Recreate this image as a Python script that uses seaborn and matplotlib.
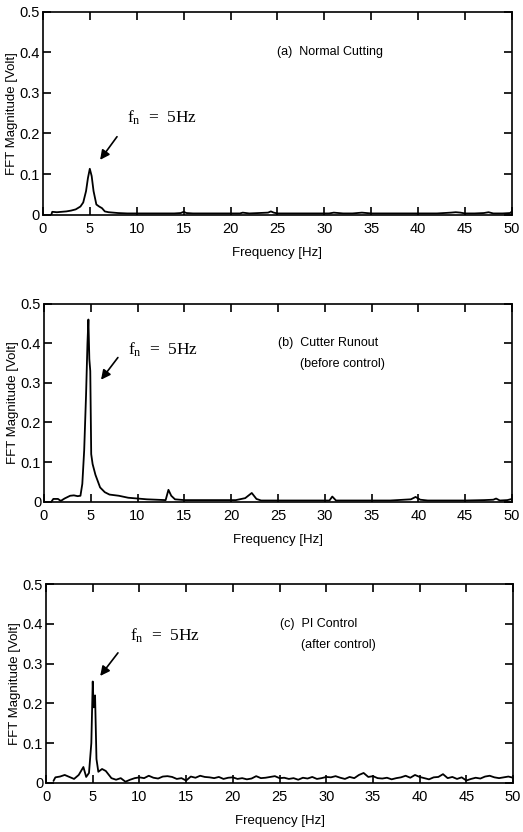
import numpy as np
import pandas as pd
import matplotlib
matplotlib.use("Agg")
import matplotlib.pyplot as plt
import seaborn as sns

# (a) Normal Cutting
freq_a = [0.9, 1.0, 1.5, 2.0, 2.5, 3.0, 3.5, 4.0, 4.3, 4.6, 4.8, 5.0, 5.2, 5.4, 5.7, 6.0, 6.3,
          6.6, 7.0, 7.5, 8.0, 9.0, 10.0, 11.0, 12.0, 13.0, 14.0, 14.7, 15.0, 15.3, 16.0, 18.0,
          20.0, 21.0, 21.3, 22.0, 23.0, 24.0, 24.3, 24.6, 25.0, 27.0, 29.0, 30.5, 31.0, 32.0,
          33.0, 33.5, 34.0, 35.0, 36.0, 38.0, 40.0, 42.0, 43.5, 44.0, 44.5, 45.0, 46.0, 47.0,
          47.5, 48.0, 49.0, 49.8, 50.0]
mag_a = [0.0, 0.007, 0.006, 0.007, 0.008, 0.010, 0.013, 0.020, 0.030, 0.058, 0.090, 0.113, 0.095,
         0.058, 0.025, 0.020, 0.016, 0.008, 0.006, 0.005, 0.004, 0.003, 0.003, 0.003, 0.003,
         0.003, 0.003, 0.004, 0.007, 0.004, 0.003, 0.003, 0.003, 0.003, 0.005, 0.003, 0.004,
         0.005, 0.008, 0.005, 0.003, 0.003, 0.003, 0.003, 0.005, 0.003, 0.003, 0.004, 0.005,
         0.003, 0.003, 0.003, 0.003, 0.003, 0.005, 0.006, 0.005, 0.003, 0.003, 0.004, 0.006,
         0.003, 0.003, 0.004, 0.008]

# (b) Cutter Runout (before control)
freq_b = [0.8, 1.0, 1.5, 1.8, 2.2, 2.8, 3.2, 3.6, 3.9, 4.1, 4.3, 4.5, 4.65, 4.75, 4.85, 4.95,
          5.05, 5.2, 5.5, 6.0, 6.5, 7.0, 8.0, 9.0, 10.0, 11.0, 12.0, 13.0, 13.3, 13.6, 14.0,
          15.0, 17.0, 19.0, 20.5, 21.5, 22.2, 22.7, 23.2, 25.0, 27.0, 29.0, 30.5, 30.8, 31.2,
          33.0, 35.0, 37.0, 39.2, 39.7, 40.2, 41.0, 43.0, 45.0, 47.0, 48.0, 48.3, 48.7, 49.5,
          50.0]
mag_b = [0.0, 0.007, 0.007, 0.002, 0.008, 0.015, 0.016, 0.014, 0.015, 0.045, 0.13, 0.27, 0.40,
         0.46, 0.36, 0.33, 0.12, 0.095, 0.068, 0.036, 0.024, 0.018, 0.015, 0.010, 0.008,
         0.006, 0.005, 0.004, 0.030, 0.015, 0.006, 0.004, 0.004, 0.004, 0.004, 0.009, 0.022,
         0.007, 0.003, 0.003, 0.003, 0.003, 0.003, 0.013, 0.003, 0.003, 0.003, 0.003, 0.006,
         0.012, 0.005, 0.003, 0.003, 0.003, 0.004, 0.005, 0.008, 0.003, 0.004, 0.007]

# (c) PI Control (after control)
freq_c = [0.8, 1.0, 1.5, 2.0, 2.5, 3.0, 3.5, 4.0, 4.3, 4.6, 4.85, 5.0, 5.1, 5.25, 5.4, 5.6,
          6.0, 6.4, 7.0, 7.5, 8.0, 8.5, 9.0, 9.5, 10.0, 10.5, 11.0, 11.5, 12.0, 12.5, 13.0,
          13.5, 14.0, 14.5, 15.0, 15.5, 16.0, 16.5, 17.0, 17.5, 18.0, 18.5, 19.0, 19.5, 20.0,
          20.5, 21.0, 21.5, 22.0, 22.5, 23.0, 23.5, 24.0, 24.5, 25.0, 25.5, 26.0, 26.5, 27.0,
          27.5, 28.0, 28.5, 29.0, 29.5, 30.0, 30.5, 31.0, 31.5, 32.0, 32.5, 33.0, 33.5, 34.0,
          34.5, 35.0, 35.5, 36.0, 36.5, 37.0, 37.5, 38.0, 38.5, 39.0, 39.5, 40.0, 40.5, 41.0,
          41.5, 42.0, 42.5, 43.0, 43.5, 44.0, 44.5, 45.0, 45.5, 46.0, 46.5, 47.0, 47.5, 48.0,
          48.5, 49.0, 49.5, 50.0]
mag_c = [0.005, 0.014, 0.016, 0.020, 0.015, 0.010, 0.020, 0.040, 0.015, 0.025, 0.10, 0.255,
         0.19, 0.22, 0.06, 0.028, 0.035, 0.030, 0.012, 0.008, 0.012, 0.003, 0.008, 0.012,
         0.014, 0.012, 0.018, 0.013, 0.011, 0.016, 0.017, 0.015, 0.010, 0.012, 0.006, 0.016,
         0.013, 0.018, 0.015, 0.014, 0.012, 0.015, 0.010, 0.013, 0.014, 0.010, 0.012, 0.009,
         0.011, 0.017, 0.012, 0.013, 0.015, 0.017, 0.012, 0.013, 0.010, 0.012, 0.008, 0.013,
         0.011, 0.015, 0.010, 0.012, 0.015, 0.014, 0.017, 0.013, 0.010, 0.015, 0.012, 0.020,
         0.025, 0.015, 0.017, 0.012, 0.011, 0.013, 0.009, 0.012, 0.014, 0.018, 0.013, 0.020,
         0.015, 0.012, 0.009, 0.014, 0.015, 0.022, 0.012, 0.015, 0.010, 0.014, 0.006, 0.010,
         0.013, 0.011, 0.016, 0.018, 0.014, 0.012, 0.014, 0.016, 0.013]

labels = [["(a)  Normal Cutting"],
          ["(b)  Cutter Runout", "(before control)"],
          ["(c)  PI Control", "(after control)"]]

x_ticks = list(range(0, 51, 5))
y_ticks = [0, 0.1, 0.2, 0.3, 0.4, 0.5]
y_ticklabels = ["0", "0.1", "0.2", "0.3", "0.4", "0.5"]

sns.set_style("ticks")
plt.rcParams['font.family'] = ['Liberation Sans', 'DejaVu Sans']
plt.rcParams['text.color'] = 'black'
plt.rcParams['axes.labelcolor'] = 'black'

fig = plt.figure(figsize=(5.23, 8.32), dpi=100)
# posiciones de los ejes (en fracciones de la figura)
boxes = [[0.082, 0.742, 0.897, 0.244],
         [0.084, 0.397, 0.895, 0.238],
         [0.088, 0.059, 0.893, 0.239]]

series = [(freq_a, mag_a), (freq_b, mag_b), (freq_c, mag_c)]
# texto fn y flecha: (texto x, texto y, cola flecha, punta flecha)
ann = [((9.0, 0.239), (7.9, 0.192), (6.1, 0.135)),
       ((9.0, 0.384), (7.9, 0.364), (6.1, 0.308)),
       ((9.0, 0.370), (7.7, 0.327), (5.8, 0.269))]

for i in range(3):
    ax = fig.add_axes(boxes[i])
    df = pd.DataFrame({"f": series[i][0], "m": series[i][1]})
    sns.lineplot(data=df, x="f", y="m", ax=ax, color="black", linewidth=1.3,
                 estimator=None, sort=False)
    ax.set_xlim(0, 50)
    ax.set_ylim(0, 0.5)
    ax.set_xticks(x_ticks)
    ax.set_xticklabels([str(t) for t in x_ticks])
    ax.set_yticks(y_ticks)
    ax.set_yticklabels(y_ticklabels)
    ax.tick_params(direction="in", length=6, width=1.2, top=True, right=True,
                   labelsize=10.5, colors="black")
    ax.tick_params(axis="x", pad=5)
    ax.tick_params(axis="y", pad=2)
    for s in ax.spines.values():
        s.set_visible(True)
        s.set_linewidth(1.2)
        s.set_color("black")
    ax.set_xlabel("Frequency [Hz]", fontsize=9.5, labelpad=8)
    ax.set_ylabel("FFT Magnitude [Volt]", fontsize=9.5, labelpad=1)

    # etiqueta del caso
    ax.text(25.0, 0.40, labels[i][0], fontsize=9, ha="left", va="center")
    if len(labels[i]) > 1:
        ax.text(27.3, 0.348, labels[i][1], fontsize=9, ha="left", va="center")

    (tx, ty), tail, head = ann[i]
    ax.text(tx, ty, r"$\mathregular{f_n}$  =  5Hz", fontsize=12.5, ha="left", va="center",
            family=["Liberation Serif", "DejaVu Serif"])
    ax.annotate("", xy=head, xytext=tail,
                arrowprops=dict(arrowstyle="-|>", color="black", lw=1.2,
                                mutation_scale=14, shrinkA=0, shrinkB=0))

fig.savefig("out.png", dpi=100)
